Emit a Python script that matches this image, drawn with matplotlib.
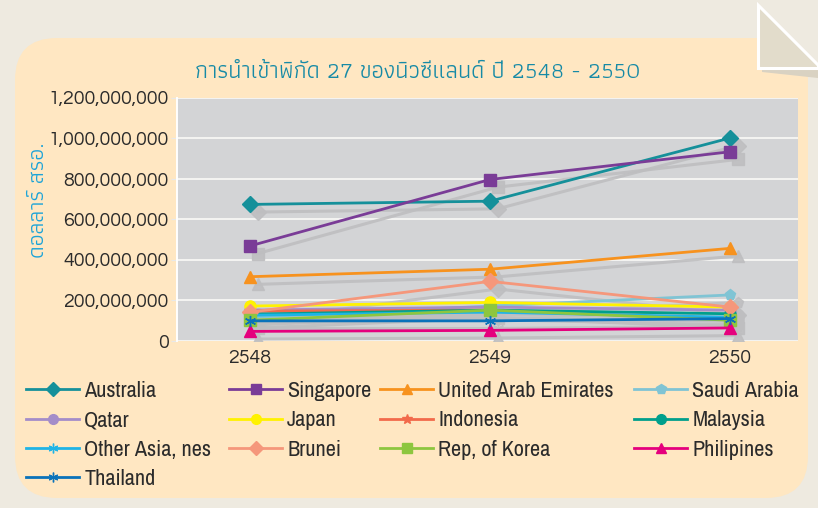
import matplotlib
matplotlib.use("Agg")
import matplotlib.pyplot as plt
from matplotlib.patches import FancyBboxPatch, Polygon
from matplotlib.transforms import offset_copy
from matplotlib.ticker import FuncFormatter

# ข้อมูล (ดอลลาร์ สรอ.) อ่านค่าจากกราฟ
years = ["2548", "2549", "2550"]
australia = [672e6, 688e6, 1000e6]
singapore = [467e6, 795e6, 932e6]
uae = [315e6, 352e6, 455e6]
saudi_arabia = [115e6, 170e6, 225e6]
qatar = [150e6, 165e6, 150e6]
japan = [170e6, 188e6, 165e6]
indonesia = [145e6, 150e6, 105e6]
malaysia = [130e6, 150e6, 132e6]
other_asia = [125e6, 140e6, 115e6]
brunei = [140e6, 292e6, 165e6]
korea = [100e6, 150e6, 100e6]
philipines = [45e6, 50e6, 62e6]
thailand = [97e6, 97e6, 108e6]

title = "การนำเข้าพิกัด 27 ของนิวซีแลนด์ ปี 2548 - 2550"
ylabel = "ดอลลาร์ สรอ."

# (ชื่อ, ค่า, สี, marker)
series = [
    ("Australia", australia, "#15909A", "D"),
    ("Singapore", singapore, "#7A3C97", "s"),
    ("United Arab Emirates", uae, "#F7921E", "^"),
    ("Saudi Arabia", saudi_arabia, "#80C4D4", "p"),
    ("Qatar", qatar, "#A48DC9", "o"),
    ("Japan", japan, "#FFF200", "o"),
    ("Indonesia", indonesia, "#F26A4B", "*"),
    ("Malaysia", malaysia, "#009F8C", "o"),
    ("Other Asia, nes", other_asia, "#1FB4E6", (6, 2, 0)),
    ("Brunei", brunei, "#F5977B", "D"),
    ("Rep, of Korea", korea, "#8DC63F", "s"),
    ("Philipines", philipines, "#E5007D", "^"),
    ("Thailand", thailand, "#0A72BA", (6, 2, 0)),
]

W, H = 818, 508
fig = plt.figure(figsize=(W / 100, H / 100), dpi=100, facecolor="#EEEAE0")

# พื้นหลังสีครีมมุมโค้ง
panel = FancyBboxPatch((0.15, 0.10), 7.93, 4.60,
                       boxstyle="round,pad=0,rounding_size=0.42",
                       transform=fig.dpi_scale_trans, facecolor="#FFE7C2",
                       edgecolor="none", zorder=-2)
fig.patches.append(panel)
# มุมกระดาษพับ
fold_shadow = Polygon([(7.62, 5.00), (7.62, 4.36), (8.18, 4.30), (8.18, 4.40)],
                      closed=True, transform=fig.dpi_scale_trans,
                      facecolor="#D9D2C2", edgecolor="none", zorder=-1)
fold = Polygon([(7.58, 5.03), (7.58, 4.40), (8.18, 4.40), (8.18, 4.43)],
               closed=True, transform=fig.dpi_scale_trans,
               facecolor="#E2DCCB", edgecolor="white", linewidth=2.2, zorder=-1)
fig.patches.extend([fold_shadow, fold])

ax = fig.add_axes([177 / W, 1 - 340.5 / H, 621 / W, 243 / H])
ax.set_facecolor("#D3D4D6")

x = list(range(len(years)))
for name, vals, color, marker in series:
    shadow = offset_copy(ax.transData, fig=fig, x=5.5, y=-5.5, units="points")
    ax.plot(x, vals, color="#BEBEC0", lw=2.2, marker=marker, ms=8,
            mec="#BEBEC0", transform=shadow, zorder=2, alpha=0.9)
for name, vals, color, marker in series:
    ax.plot(x, vals, color=color, lw=2.0, marker=marker, ms=8,
            mec=color, zorder=3, label=name)

ax.set_xlim(-0.304, 2.283)
ax.set_ylim(0, 1.2e9)
ax.set_xticks(x)
ax.set_xticklabels(years)
ax.set_yticks([i * 2e8 for i in range(7)])
ax.yaxis.set_major_formatter(FuncFormatter(lambda v, p: f"{v:,.0f}"))
ax.grid(axis="y", color="#F4F4F2", lw=1.4)
ax.set_axisbelow(True)
for s in ["top", "right", "bottom"]:
    ax.spines[s].set_visible(False)
ax.spines["left"].set_color("white")
ax.spines["left"].set_linewidth(1.4)
tick_font = ["Questrial", "Didact Gothic", "Lato", "DejaVu Sans"]
ax.tick_params(axis="y", length=4, color="#E8E8E8", pad=2, labelsize=14,
               labelcolor="#2B2B2B")
ax.tick_params(axis="x", length=0, pad=6, labelsize=14, labelcolor="#2B2B2B")
for lab in ax.get_xticklabels() + ax.get_yticklabels():
    lab.set_family(tick_font)

thai_font = ["Athiti", "DejaVu Sans"]
fig.text(418 / W, 1 - 72 / H, title, ha="center", va="center",
         color="#168AA6", fontsize=17, family=thai_font)
fig.text(38 / W, 1 - 200 / H, ylabel, ha="center", va="center", rotation=90,
         color="#1BA3D8", fontsize=16.5, family=thai_font)

# คำอธิบายสัญลักษณ์ เรียงตามแถวแบบ Excel
handles, labels = ax.get_legend_handles_labels()
col_x = [26, 229, 380, 634]
legend_font = {"family": ["Archivo Narrow", "Liberation Sans Narrow", "DejaVu Sans"],
               "size": 16}
for c, cx in enumerate(col_x):
    idx = list(range(c, len(handles), 4))
    leg = fig.legend([handles[i] for i in idx], [labels[i] for i in idx],
                     loc="upper left", bbox_to_anchor=(cx / W, 1 - 381 / H),
                     frameon=False, borderpad=0, borderaxespad=0,
                     handlelength=2.4, handletextpad=0.22, labelspacing=0.42,
                     numpoints=1, prop=legend_font, labelcolor="#2B2B2B")
    for h in leg.legend_handles:
        h.set_markersize(7)

fig.savefig("out.png", dpi=100, facecolor=fig.get_facecolor())
